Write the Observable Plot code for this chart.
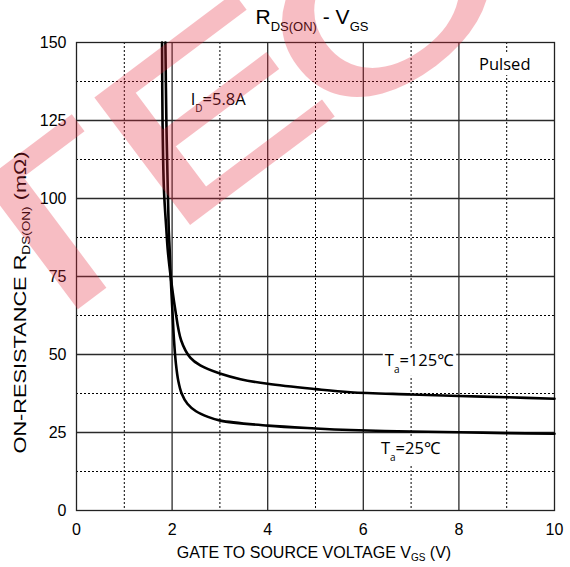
<!DOCTYPE html>
<html><head><meta charset="utf-8">
<script src="https://cdn.jsdelivr.net/npm/d3@7"></script>
<script src="https://cdn.jsdelivr.net/npm/@observablehq/plot@0.6"></script>
<style>body{margin:0;background:#fff;} svg{display:block}</style>
</head><body><div id="chart"></div>
<script>
// Ta = 125°C
const vgs125 = [1.79, 1.80, 1.83, 1.88, 1.91, 1.97, 2.06, 2.19, 2.38, 2.59, 3.0, 3.43, 4.0, 5.0, 5.73, 7.0, 8.0, 9.0, 10.0];
const rds125 = [150, 125, 102.6, 90, 83.3, 75, 65, 54.5, 49, 46.5, 43.9, 42.1, 40.6, 38.9, 37.9, 37.2, 36.7, 36.3, 35.8];
// Ta = 25°C
const vgs25 = [1.86, 1.88, 1.91, 1.93, 1.95, 1.97, 2.01, 2.04, 2.08, 2.13, 2.2, 2.32, 2.5, 2.75, 3.01, 4.0, 5.0, 5.73, 7.0, 8.0, 9.0, 10.0];
const rds25 = [150, 125, 102.6, 90, 83.3, 75, 63, 54.5, 47, 41.5, 37.5, 34.2, 31.8, 30.0, 28.8, 27.2, 26.3, 25.8, 25.3, 25.1, 24.8, 24.6];

const xTicks = [0, 2, 4, 6, 8, 10];
const yTicks = [0, 25, 50, 75, 100, 125, 150];
const xMajor = [2, 4, 6, 8];
const yMajor = [25, 50, 75, 100, 125];
const xMinor = [1, 3, 5, 7, 9];
const yMinor = [12.5, 37.5, 62.5, 87.5, 112.5, 137.5];

const series = [
  ...vgs125.map((v, i) => ({vgs: v, rds: rds125[i], t: "125"})),
  ...vgs25.map((v, i) => ({vgs: v, rds: rds25[i], t: "25"}))
];

const plot = Plot.plot({
  width: 570, height: 567,
  marginLeft: 76, marginRight: 16, marginTop: 42, marginBottom: 57,
  style: {fontFamily: "'Liberation Sans', Arial, sans-serif", fontSize: "16px", color: "#000", background: "#fff", overflow: "visible"},
  x: {domain: [0, 10], ticks: xTicks, tickSize: 0, tickPadding: 13, label: null},
  y: {domain: [0, 150], ticks: yTicks, tickSize: 0, tickPadding: 10, label: null},
  marks: [
    Plot.ruleX(xMinor, {stroke: "#000", strokeWidth: 1, strokeDasharray: "2,2"}),
    Plot.ruleY(yMinor, {stroke: "#000", strokeWidth: 1, strokeDasharray: "2,2"}),
    Plot.ruleX(xMajor, {stroke: "#2a2a2a", strokeWidth: 1.3}),
    Plot.ruleY(yMajor, {stroke: "#2a2a2a", strokeWidth: 1.3}),
    Plot.frame({stroke: "#222", strokeWidth: 1.3}),
    Plot.line(series, {x: "vgs", y: "rds", z: "t", stroke: "#000", strokeWidth: 2.6, curve: "catmull-rom"})
  ]
});
document.getElementById("chart").appendChild(plot);

const svg = d3.select(plot);
const sx = plot.scale("x"), sy = plot.scale("y");
const SANS = "'Liberation Sans', Arial, sans-serif";
const ANN = "'Open Sans', 'Noto Sans', sans-serif";

// Title
const title = svg.append("text").attr("x", 312).attr("y", 23.5).attr("text-anchor", "middle")
  .attr("font-family", SANS).attr("font-size", 21).attr("fill", "#000");
title.append("tspan").text("R");
title.append("tspan").attr("dy", 7).attr("font-size", 13).text("DS(ON)");
title.append("tspan").attr("dy", -7).text(" - V");
title.append("tspan").attr("dy", 7).attr("font-size", 13).text("GS");

// X axis label
const xl = svg.append("text").attr("x", 314).attr("y", 557.5).attr("text-anchor", "middle")
  .attr("font-family", SANS).attr("font-size", 16).attr("fill", "#000");
xl.append("tspan").text("GATE TO SOURCE VOLTAGE V");
xl.append("tspan").attr("dy", 3).attr("font-size", 10).text("GS");
xl.append("tspan").attr("dy", -3).text(" (V)");

// Y axis label
const yl = svg.append("text").attr("transform", "translate(26,302.5) rotate(-90) scale(1.36,1)")
  .attr("text-anchor", "middle").attr("font-family", SANS).attr("font-size", 16).attr("fill", "#000");
yl.append("tspan").text("ON-RESISTANCE R");
yl.append("tspan").attr("dy", 4).attr("font-size", 10).text("DS(ON)");
yl.append("tspan").attr("dy", -4).text(" (mΩ)");

// Annotations (positions in data units)
function annot(parts, xv, yv, anchor) {
  const g = svg.append("g");
  const t = g.append("text").attr("x", sx.apply(xv)).attr("y", sy.apply(yv))
    .attr("text-anchor", anchor || "start").attr("font-family", ANN).attr("font-size", 16.5).attr("fill", "#000");
  let shift = 0;
  parts.forEach(([s, sub]) => {
    const ts = t.append("tspan").text(s);
    if (sub && shift === 0) { ts.attr("dy", 7).attr("font-size", 10); shift = 7; }
    else if (!sub && shift !== 0) { ts.attr("dy", -shift); shift = 0; }
  });
  const bb = t.node().getBBox();
  g.insert("rect", "text").attr("x", bb.x - 2).attr("y", bb.y).attr("width", bb.width + 4).attr("height", bb.height)
    .attr("fill", "#fff");
}
annot([["Pulsed", false]], 8.97, 141.0, "middle");
annot([["I", false], ["D", true], ["=5.8A", false]], 2.40, 129.8);
annot([["T", false], ["a", true], ["=125℃", false]], 6.46, 46.2);
annot([["T", false], ["a", true], ["=25℃", false]], 6.38, 17.9);

// Watermark
const wm = svg.append("g").attr("opacity", 0.3).attr("pointer-events", "none");
const wt = wm.append("text").attr("transform", "translate(12,356) rotate(-36.87) scale(1.43,1)")
  .attr("text-anchor", "start")
  .attr("font-family", SANS).attr("font-size", 226).attr("fill", "#e8283c")
  .attr("stroke", "#e8283c").attr("stroke-width", 4).attr("stroke-linejoin", "miter");
wt.append("tspan").text("TE");
wt.append("tspan").attr("dx", -17).attr("dy", 18).text("C");
</script>
</body></html>
